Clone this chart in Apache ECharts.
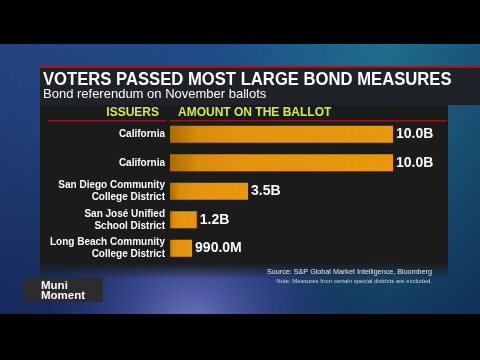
<!DOCTYPE html>
<html>
<head>
<meta charset="utf-8">
<script src="https://cdn.jsdelivr.net/npm/echarts@6/dist/echarts.min.js"></script>
<style>
html,body{margin:0;padding:0;background:#000;}
#chart{width:480px;height:360px;}
</style>
</head>
<body>
<div id="chart"></div>
<script>
var categories = ['California', 'California', 'San Diego Community\nCollege District', 'San José Unified\nSchool District', 'Long Beach Community\nCollege District'];
var values = [10.0, 10.0, 3.5, 1.2, 0.99];
var valueLabels = ['10.0B', '10.0B', '3.5B', '1.2B', '990.0M'];
var titleText = 'VOTERS PASSED MOST LARGE BOND MEASURES';
var subtitleText = 'Bond referendum on November ballots';
var headerLeft = 'ISSUERS';
var headerRight = 'AMOUNT ON THE BALLOT';
var sourceText = 'Source: S&P Global Market Intelligence, Bloomberg';
var noteText = 'Note: Measures from certain special districts are excluded.';
var badgeText = 'Muni\nMoment';

var FONT = '"Liberation Sans", Arial, sans-serif';
var chart = echarts.init(document.getElementById('chart'), null, {renderer: 'canvas'});

var option = {
  backgroundColor: '#000',
  animation: false,
  graphic: [
    // background gradient area
    {type: 'rect', z: -20, shape: {x: 0, y: 44, width: 480, height: 270},
      style: {fill: new echarts.graphic.LinearGradient(0, 0, 1, 0, [
        {offset: 0, color: '#25427f'}, {offset: 0.45, color: '#1f4d88'}, {offset: 0.8, color: '#1f6e8c'}, {offset: 1, color: '#1a5478'}])}},
    {type: 'rect', z: -19, shape: {x: 0, y: 44, width: 480, height: 270},
      style: {fill: new echarts.graphic.LinearGradient(0, 0, 0, 1, [
        {offset: 0, color: 'rgba(8,20,50,0)'}, {offset: 0.3, color: 'rgba(8,20,50,0.1)'}, {offset: 1, color: 'rgba(8,20,60,0.55)'}])}},
    {type: 'rect', z: -18, shape: {x: 0, y: 44, width: 480, height: 270},
      style: {fill: new echarts.graphic.RadialGradient(0.4, 1.05, 0.55, [
        {offset: 0, color: 'rgba(130,135,210,0.85)'}, {offset: 0.5, color: 'rgba(90,90,180,0.45)'}, {offset: 1, color: 'rgba(60,60,150,0)'}])}},
    // title panel
    {type: 'rect', z: -10, shape: {x: 40, y: 66, width: 440, height: 39}, style: {fill: '#1f2226'}},
    {type: 'rect', z: -9, shape: {x: 40, y: 66, width: 440, height: 2}, style: {fill: '#a5141c'}},
    // chart panel
    {type: 'rect', z: -10, shape: {x: 40, y: 105, width: 408, height: 158}, style: {fill: '#1b1b1c'}},
    {type: 'rect', z: -10, shape: {x: 40, y: 263, width: 408, height: 16},
      style: {fill: new echarts.graphic.LinearGradient(0, 0, 0, 1, [
        {offset: 0, color: 'rgba(27,27,28,1)'}, {offset: 1, color: 'rgba(27,27,28,0)'}])}},
    // title texts
    {type: 'text', z: 5, x: 43, y: 70, scaleX: 0.9, style: {text: titleText, fill: '#ffffff', font: 'bold 18.5px ' + FONT}},
    {type: 'text', z: 5, left: 43, top: 88, style: {text: subtitleText, fill: '#ffffff', font: '13px ' + FONT}},
    // headers
    {type: 'text', z: 5, right: 480 - 159, top: 107, style: {text: headerLeft, fill: '#d8ea3e', font: 'bold 12px ' + FONT}},
    {type: 'text', z: 5, left: 178, top: 107, style: {text: headerRight, fill: '#d8ea3e', font: 'bold 12px ' + FONT}},
    {type: 'rect', z: 5, shape: {x: 48, y: 120, width: 118, height: 1.5}, style: {fill: '#8a1a22'}},
    {type: 'rect', z: 5, shape: {x: 170, y: 120, width: 277, height: 1.5}, style: {fill: '#8a1a22'}},
    // source
    {type: 'text', z: 5, right: 480 - 432, top: 269, style: {text: sourceText, fill: '#e8e8f0', font: '7.2px ' + FONT, align: 'right'}},
    {type: 'text', z: 5, right: 480 - 432, top: 278, style: {text: noteText, fill: '#d0d0dc', font: '6px ' + FONT, align: 'right'}},
    // badge
    {type: 'rect', z: 5, shape: {x: 23, y: 277, width: 80, height: 25}, style: {fill: '#2c2c2e'}},
    {type: 'text', z: 6, left: 41, top: 280, style: {text: badgeText, fill: '#ffffff', font: 'bold 11.5px ' + FONT, lineHeight: 10}}
  ],
  grid: {left: 170, right: 87, top: 120, bottom: 97.5, containLabel: false},
  xAxis: {type: 'value', min: 0, max: 10, show: false},
  yAxis: {
    type: 'category', data: categories, inverse: true,
    axisLine: {show: false}, axisTick: {show: false}, splitLine: {show: false},
    axisLabel: {color: '#ffffff', fontFamily: FONT, fontWeight: 'bold', fontSize: 10, lineHeight: 12, margin: 5, align: 'right'}
  },
  series: [{
    type: 'bar', z: 10, barWidth: 17,
    data: values,
    itemStyle: {color: new echarts.graphic.LinearGradient(0, 0, 1, 0, [
      {offset: 0, color: '#aa6b04'}, {offset: 0.12, color: '#d88a0a'}, {offset: 0.3, color: '#e3930d'}, {offset: 1, color: '#e8980e'}])},
    label: {
      show: true, position: 'right', distance: 3,
      color: '#ffffff', fontFamily: FONT, fontWeight: 'bold', fontSize: 14,
      formatter: function (p) { return valueLabels[p.dataIndex]; }
    }
  }]
};
chart.setOption(option);
</script>
</body>
</html>
